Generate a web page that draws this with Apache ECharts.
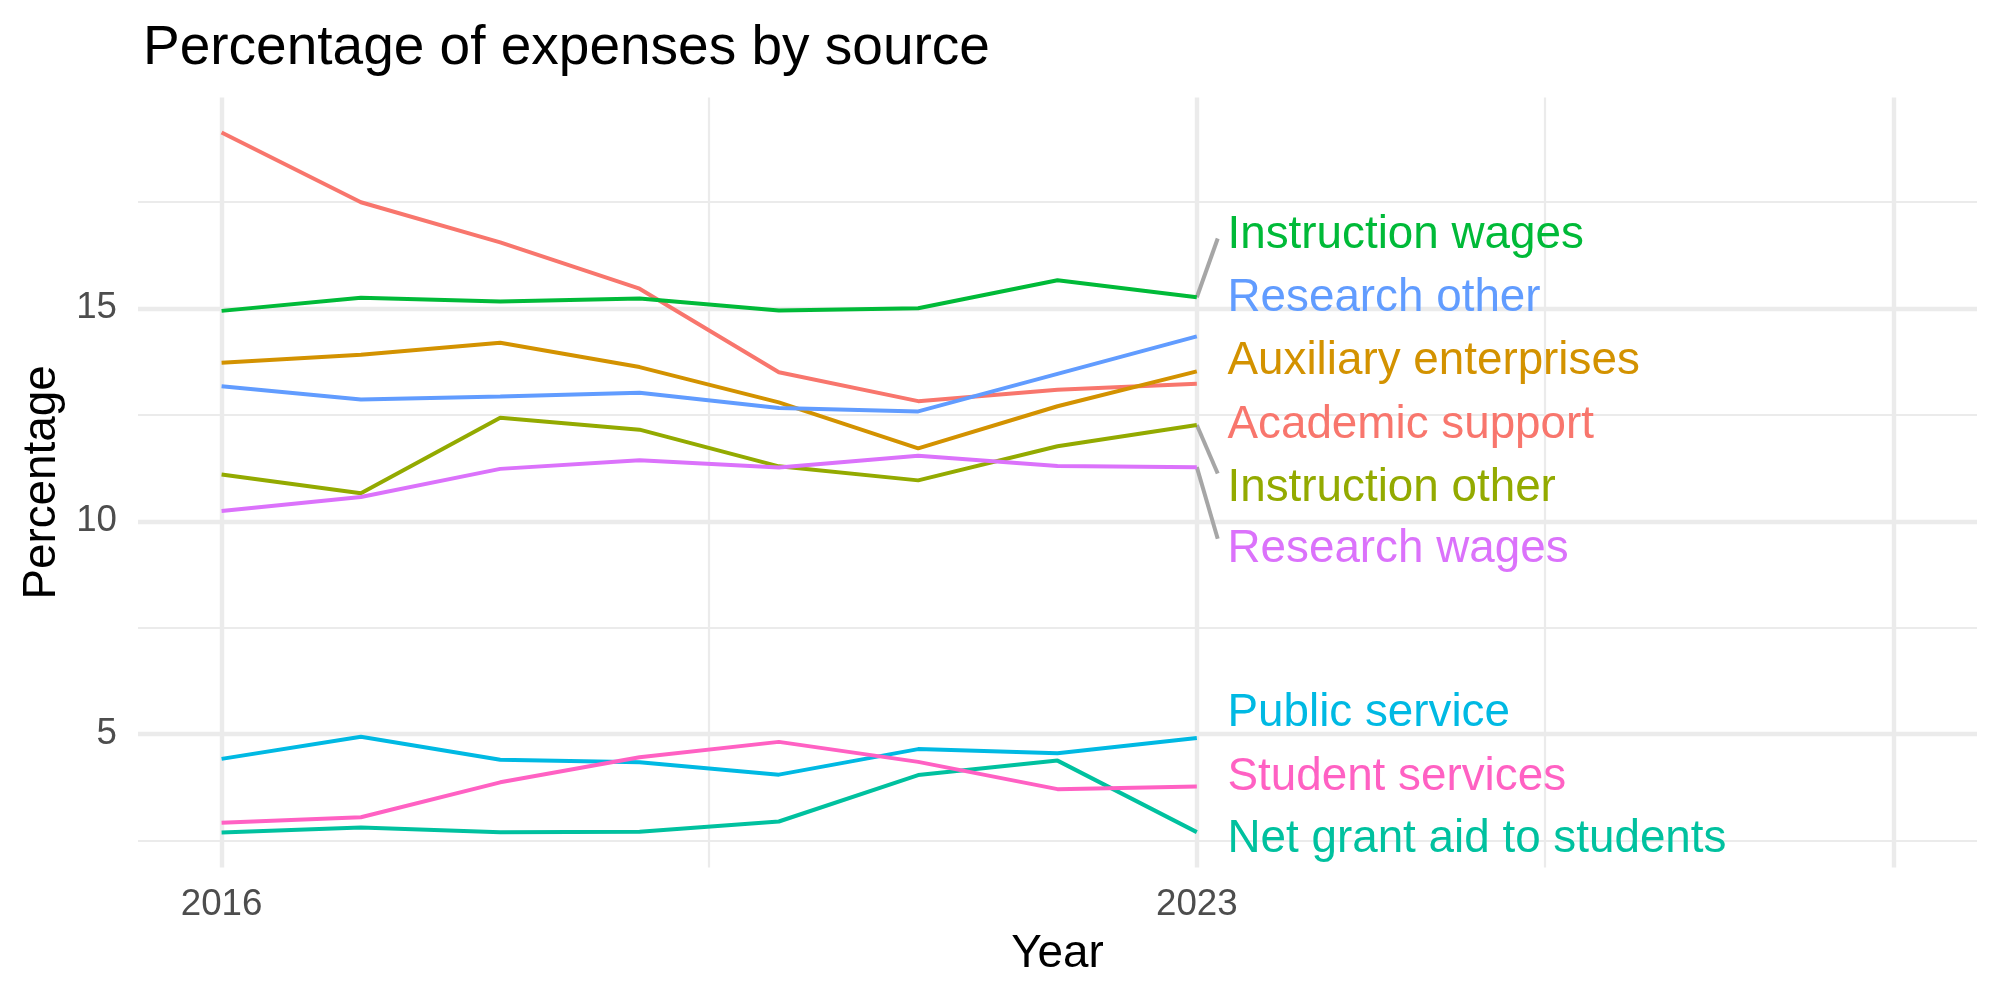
<!DOCTYPE html>
<html><head><meta charset="utf-8">
<script src="https://cdn.jsdelivr.net/npm/echarts@6/dist/echarts.min.js"></script>
<style>html,body{margin:0;padding:0;background:#fff}#c{width:2000px;height:1000px}</style>
</head><body><div id="c"></div>
<script>
const years = [2016, 2017, 2018, 2019, 2020, 2021, 2022, 2023];
const seriesNames = ["Academic support", "Auxiliary enterprises", "Instruction other", "Instruction wages",
  "Net grant aid to students", "Public service", "Research other", "Research wages", "Student services"];
const academicSupport = [19.13, 17.49, 16.55, 15.46, 13.50, 12.82, 13.09, 13.23];
const auxiliaryEnterprises = [13.72, 13.91, 14.19, 13.62, 12.79, 11.71, 12.70, 13.52];
const instructionOther = [11.10, 10.66, 12.43, 12.15, 11.29, 10.96, 11.76, 12.26];
const instructionWages = [14.94, 15.25, 15.16, 15.23, 14.95, 15.00, 15.66, 15.26];
const netGrantAid = [2.69, 2.81, 2.70, 2.71, 2.95, 4.04, 4.38, 2.70];
const publicService = [4.42, 4.94, 4.40, 4.34, 4.05, 4.65, 4.55, 4.91];
const researchOther = [13.17, 12.86, 12.93, 13.02, 12.66, 12.58, 13.46, 14.34];
const researchWages = [10.24, 10.57, 11.23, 11.43, 11.26, 11.54, 11.30, 11.27];
const studentServices = [2.92, 3.05, 3.87, 4.46, 4.82, 4.35, 3.71, 3.77];
const seriesValues = [academicSupport, auxiliaryEnterprises, instructionOther, instructionWages,
  netGrantAid, publicService, researchOther, researchWages, studentServices];
const seriesColors = ["#F8766D", "#D39200", "#93AA00", "#00BA38", "#00C19F", "#00B9E3", "#619CFF", "#DB72FB", "#FF61C3"];
// repelled label positions (y value) per series, label x
const labelY = [12.25, 13.75, 10.77, 16.71, 2.53, 5.48, 15.24, 9.35, 3.99];
const labelX = 2023.22;
// segments from line end to label (only where drawn)
const segmentSeries = ["Instruction wages", "Instruction other", "Research wages"];
const segmentEndX = 2023.15;
const segmentEndY = [16.64, 11.12, 9.59];
const xTickLabels = [2016, 2023];
const xMajorGrid = [2016, 2023, 2028];
const xMinorGrid = [2019.5, 2025.5];
const yTickLabels = [5, 10, 15];
const yMinorGrid = [2.5, 7.5, 12.5, 17.5];

const FONT = '"Liberation Sans", Arial, Helvetica, sans-serif';
const GRID = '#EBEBEB';

const series = [];
// gridlines
series.push({
  type: 'line', z: 1, silent: true, showSymbol: false, lineStyle: {width: 0},
  data: [[years[0], academicSupport[0]]],
  markLine: {
    z: 1, silent: true, symbol: ['none', 'none'], label: {show: false}, animation: false,
    data: [
      ...yMinorGrid.map(v => ({yAxis: v, lineStyle: {color: GRID, width: 2.2, type: 'solid'}})),
      ...xMinorGrid.map(v => ({xAxis: v, lineStyle: {color: GRID, width: 2.2, type: 'solid'}})),
      ...yTickLabels.map(v => ({yAxis: v, lineStyle: {color: GRID, width: 4.4, type: 'solid'}})),
      ...xMajorGrid.map(v => ({xAxis: v, lineStyle: {color: GRID, width: 4.4, type: 'solid'}}))
    ]
  }
});
seriesNames.forEach((name, i) => {
  series.push({
    name, type: 'line', z: 3, showSymbol: false, symbol: 'none',
    lineStyle: {color: seriesColors[i], width: 4},
    data: years.map((y, j) => [y, seriesValues[i][j]])
  });
});
segmentSeries.forEach((name, k) => {
  const i = seriesNames.indexOf(name);
  const vals = seriesValues[i];
  series.push({
    type: 'line', z: 2, showSymbol: false, symbol: 'none',
    lineStyle: {color: '#A6A6A6', width: 4},
    data: [[years[years.length - 1], vals[vals.length - 1]], [segmentEndX, segmentEndY[k]]]
  });
});
series.push({
  type: 'scatter', z: 6, symbolSize: 0,
  itemStyle: {opacity: 1},
  data: seriesNames.map((name, i) => ({
    value: [labelX, labelY[i]], name,
    label: {color: seriesColors[i]}
  })),
  label: {
    show: true, position: 'right', distance: 0, formatter: p => p.name,
    fontFamily: FONT, fontSize: 45.8, align: 'left', verticalAlign: 'middle', opacity: 1
  }
});

const chart = echarts.init(document.getElementById('c'), null, {renderer: 'canvas'});
chart.setOption({
  animation: false,
  backgroundColor: '#fff',
  title: {
    text: 'Percentage of expenses by source', left: 138, top: 16,
    textStyle: {fontFamily: FONT, fontSize: 55, fontWeight: 'normal', color: '#000'}
  },
  grid: {left: 138, right: 23, top: 97.5, bottom: 132.5, containLabel: false},
  xAxis: {
    type: 'value', min: 2015.4, max: 2028.6,
    name: 'Year', nameLocation: 'middle', nameGap: 64,
    nameTextStyle: {fontFamily: FONT, fontSize: 45.8, color: '#000'},
    axisLine: {show: false}, axisTick: {show: false}, splitLine: {show: false},
    axisLabel: {customValues: xTickLabels, formatter: v => String(v), fontFamily: FONT, fontSize: 36.7, color: '#4D4D4D', margin: 19}
  },
  yAxis: {
    type: 'value', min: 1.87, max: 19.95,
    name: 'Percentage', nameLocation: 'middle', nameGap: 73,
    nameTextStyle: {fontFamily: FONT, fontSize: 45.8, color: '#000'},
    axisLine: {show: false}, axisTick: {show: false}, splitLine: {show: false},
    axisLabel: {customValues: yTickLabels, formatter: v => String(v), fontFamily: FONT, fontSize: 36.7, color: '#4D4D4D', margin: 21}
  },
  series
});
</script></body></html>
